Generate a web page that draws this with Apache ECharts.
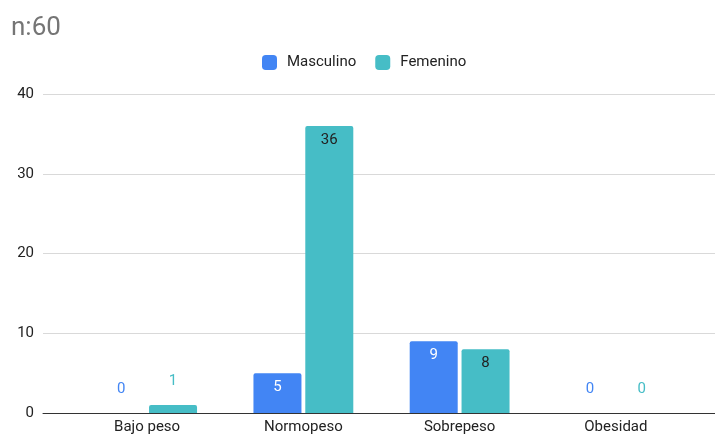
<!DOCTYPE html>
<html>
<head>
<meta charset="utf-8">
<script src="https://cdn.jsdelivr.net/npm/echarts@6/dist/echarts.min.js"></script>
<style>
  html, body { margin: 0; padding: 0; background: #fff; }
  #chart { width: 715px; height: 435px; }
</style>
</head>
<body>
<div id="chart"></div>
<script>
// Distribución por IMC y sexo
const categories = ['Bajo peso', 'Normopeso', 'Sobrepeso', 'Obesidad'];
const masculino = [0, 5, 9, 0];
const femenino = [1, 36, 8, 0];
const yTicks = { min: 0, max: 40, interval: 10 };

const BLUE = '#4285F4';
const TEAL = '#46BDC6';
const FONT = 'Roboto, "Liberation Sans", Arial, sans-serif';

// Small values get their label above the bar in the series colour,
// larger ones sit inside the bar top.
function barData(values, insideColor, outsideColor) {
  return values.map(v => {
    const inside = v >= 3;
    return {
      value: v,
      label: inside
        ? { position: 'insideTop', distance: 7, color: insideColor }
        : { position: 'top', distance: 16, color: outsideColor }
    };
  });
}

const chart = echarts.init(document.getElementById('chart'));
chart.setOption({
  animation: false,
  textStyle: { fontFamily: FONT },
  title: {
    text: 'n:60',
    left: 6,
    top: 10,
    textStyle: { fontFamily: FONT, fontSize: 26, fontWeight: 'normal', color: '#757575' }
  },
  legend: {
    top: 55,
    left: 262,
    padding: 0,
    itemWidth: 15,
    itemHeight: 15,
    itemGap: 19,
    icon: 'roundRect',
    textStyle: { fontFamily: FONT, fontSize: 15, color: '#222', padding: [0, 0, 0, 5] },
    data: ['Masculino', 'Femenino']
  },
  grid: [
    { left: 43, right: 0, top: 94, bottom: 22 },
    { left: 69, right: 21, top: 94, bottom: 22 }
  ],
  xAxis: [
    {
      gridIndex: 0, type: 'value', min: 0, max: 1,
      axisLine: { show: true, onZero: false, lineStyle: { color: '#333', width: 1 } },
      axisTick: { show: false }, axisLabel: { show: false }, splitLine: { show: false }
    },
    {
      gridIndex: 1, type: 'category', data: categories,
      axisLine: { show: false }, axisTick: { show: false },
      axisLabel: { fontFamily: FONT, fontSize: 15, color: '#222', margin: 7 }
    }
  ],
  yAxis: [
    {
      gridIndex: 0, type: 'value', min: yTicks.min, max: yTicks.max, interval: yTicks.interval,
      axisLine: { show: false }, axisTick: { show: false },
      axisLabel: { fontFamily: FONT, fontSize: 15, color: '#222', margin: 9 },
      splitLine: { lineStyle: { color: '#d9d9d9', width: 1 } }
    },
    {
      gridIndex: 1, type: 'value', min: yTicks.min, max: yTicks.max, interval: yTicks.interval,
      show: false, splitLine: { show: false }
    }
  ],
  series: [
    {
      name: 'Masculino', type: 'bar', xAxisIndex: 1, yAxisIndex: 1,
      barWidth: 48, barGap: '8%',
      itemStyle: { color: BLUE, borderRadius: [2, 2, 0, 0] },
      label: { show: true, fontFamily: FONT, fontSize: 15 },
      data: barData(masculino, '#ffffff', BLUE)
    },
    {
      name: 'Femenino', type: 'bar', xAxisIndex: 1, yAxisIndex: 1,
      barWidth: 48, barGap: '8%',
      itemStyle: { color: TEAL, borderRadius: [2, 2, 0, 0] },
      label: { show: true, fontFamily: FONT, fontSize: 15 },
      data: barData(femenino, '#222222', TEAL)
    }
  ]
});
</script>
</body>
</html>
